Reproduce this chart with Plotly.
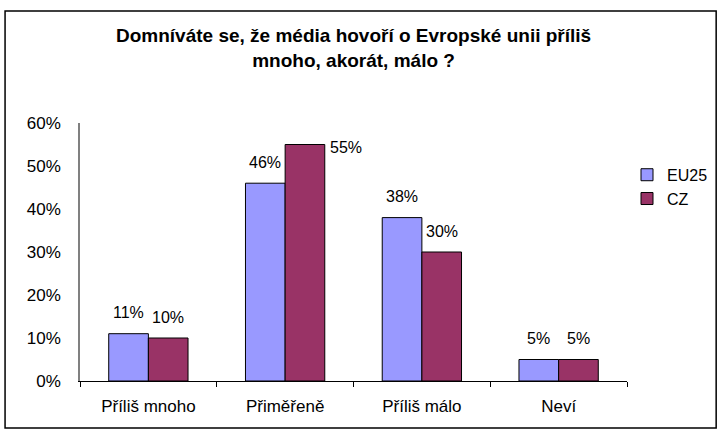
import plotly.graph_objects as go

# survey answers and shares (percent)
categories = ['Příliš mnoho', 'Přiměřeně', 'Příliš málo', 'Neví']
eu25 = [11, 46, 38, 5]
cz = [10, 55, 30, 5]
y_ticks = [0, 10, 20, 30, 40, 50, 60]

font = 'Liberation Sans, Arial, sans-serif'
half_bar = 19.8  # px offset from category centre to each bar centre

fig = go.Figure()
fig.add_trace(go.Bar(
    name='EU25', x=categories, y=eu25,
    marker=dict(color='#9999FF', line=dict(color='black', width=1))))
fig.add_trace(go.Bar(
    name='CZ', x=categories, y=cz,
    marker=dict(color='#993366', line=dict(color='black', width=1))))

# value labels a bit above each bar (the tallest one sits beside its bar)
for cat, v in zip(categories, eu25):
    fig.add_annotation(x=cat, y=v, text=f'{v}%', showarrow=False,
                       xshift=-half_bar, yshift=21, yanchor='middle',
                       font=dict(size=16))
for cat, v in zip(categories, cz):
    beside = v == max(cz)
    fig.add_annotation(x=cat, y=v, text=f'{v}%', showarrow=False,
                       xshift=half_bar + (41 if beside else 0),
                       yshift=-3 if beside else 21, yanchor='middle',
                       font=dict(size=16))

# chart title
fig.add_annotation(
    text='<b>Domníváte se, že média hovoří o Evropské unii příliš<br>mnoho, akorát, málo ?</b>',
    xref='paper', yref='paper', x=0.5, y=1.292, xanchor='center',
    yanchor='middle', showarrow=False, font=dict(size=19))

fig.update_layout(
    width=720, height=432,
    paper_bgcolor='white', plot_bgcolor='white',
    font=dict(family=font, size=17, color='black'),
    margin=dict(l=80, r=93, t=123, b=51, autoexpand=False),
    barmode='group', bargap=0.42, bargroupgap=0,
    legend=dict(x=1.0, y=0.865, xanchor='left', yanchor='top',
                font=dict(size=16), itemwidth=30,
                bgcolor='rgba(0,0,0,0)'),
    showlegend=True,
)

fig.update_xaxes(showline=True, linecolor='black', linewidth=1,
                 ticks='outside', tickson='boundaries', ticklen=5,
                 tickcolor='black', showgrid=False, automargin=False,
                 ticklabelstandoff=10, tickfont=dict(size=17))
fig.update_yaxes(range=[0, 60], tickvals=y_ticks,
                 ticktext=[f'{v}%' for v in y_ticks],
                 showline=True, linecolor='#808080', linewidth=1.5,
                 showgrid=False, zeroline=False, ticks='', automargin=False,
                 ticklabelstandoff=14, tickfont=dict(size=17))

# outer frame around the whole chart
fig.add_shape(type='rect', xref='paper', yref='paper',
              x0=-0.137, x1=1.163, y0=-0.182, y1=1.434,
              line=dict(color='black', width=1.5), fillcolor='rgba(0,0,0,0)')

fig.write_html('out.html', config={'displayModeBar': False},
               post_script="document.body.style.margin='0';")
